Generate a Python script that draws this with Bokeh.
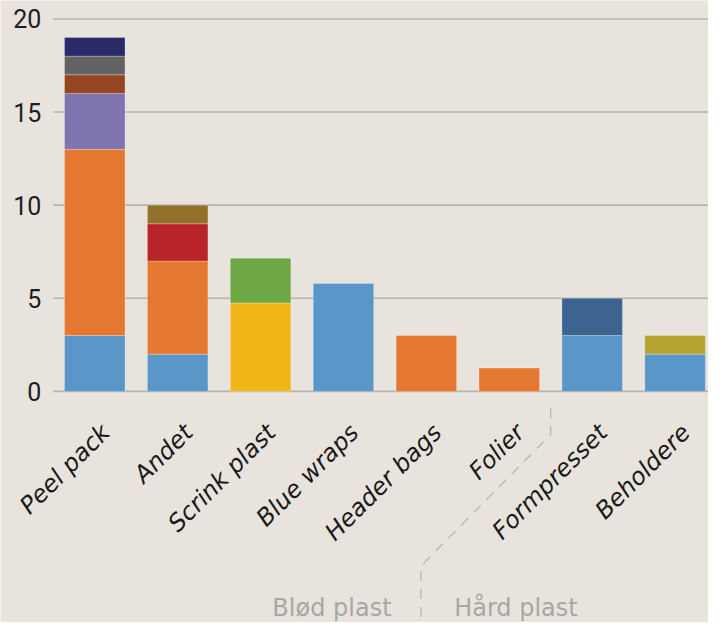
import math
from bokeh.plotting import figure
from bokeh.models import ColumnDataSource, Range1d
from bokeh.core.properties import value
from bokeh.embed import file_html
from bokeh.resources import INLINE

# ---- data ----
categories = ["Peel pack", "Andet", "Scrink plast", "Blue wraps",
              "Header bags", "Folier", "Formpresset", "Beholdere"]
blue   = [3, 2, 0, 5.8, 0, 0, 3, 2]
orange = [10, 5, 0, 0, 3, 1.25, 0, 0]
yellow = [0, 0, 4.75, 0, 0, 0, 0, 0]
purple = [3, 0, 0, 0, 0, 0, 0, 0]
red    = [0, 2, 0, 0, 0, 0, 0, 0]
green  = [0, 0, 2.4, 0, 0, 0, 0, 0]
steel  = [0, 0, 0, 0, 0, 0, 2, 0]
olive  = [0, 0, 0, 0, 0, 0, 0, 1]
brown  = [1, 0, 0, 0, 0, 0, 0, 0]
ochre  = [0, 1, 0, 0, 0, 0, 0, 0]
gray   = [1, 0, 0, 0, 0, 0, 0, 0]
navy   = [1, 0, 0, 0, 0, 0, 0, 0]
y_ticks = [0, 5, 10, 15, 20]
y_tick_labels = ["0", "5", "10", "15", "20"]
group_names = ["Blød plast", "Hård plast"]
group_sizes = [6, 2]

series = [blue, orange, yellow, purple, red, green, steel, olive, brown, ochre, gray, navy]
colors = ["#5a96c8", "#e47831", "#f1b719", "#7f74b0", "#b92428", "#6ea845",
          "#3d6490", "#b6a230", "#964523", "#92712b", "#636363", "#2b2a68"]

BG = "#e8e4dd"

# build stacked segments from the series
xs, bottoms, tops, fills = [], [], [], []
base = [0.0] * len(categories)
for vals, col in zip(series, colors):
    for i, v in enumerate(vals):
        if v > 0:
            xs.append(i)
            bottoms.append(base[i])
            tops.append(base[i] + v)
            fills.append(col)
            base[i] += v
seg = ColumnDataSource(dict(x=xs, bottom=bottoms, top=tops, color=fills))

X0, X1 = -1.137, 7.403
p = figure(width=708, height=622, output_backend="svg", toolbar_location=None,
           x_range=Range1d(X0, X1), y_range=Range1d(-12.41, 20.99),
           min_border_left=0, min_border_right=0, min_border_top=0, min_border_bottom=0)
p.background_fill_color = BG
p.border_fill_color = BG
p.outline_line_color = None
p.axis.visible = False
p.grid.visible = False

# gridlines (one per y tick), starting at the left edge of the first category slot
grid = ColumnDataSource(dict(x0=[-0.5] * len(y_ticks), x1=[X1] * len(y_ticks), y=y_ticks,
                             t=y_tick_labels))
p.segment(x0="x0", y0="y", x1="x1", y1="y", source=grid,
          line_color="#b5b3ae", line_width=1.6)
p.text(x="x0", y="y", text="t", source=grid, x_offset=-12,
       text_align="right", text_baseline="middle",
       text_font=value("Roboto"), text_font_size="25px", text_color="#1e1e1e")

p.vbar(x="x", bottom="bottom", top="top", width=0.73, fill_color="color",
       line_color="white", line_alpha=0.25, line_width=1, source=seg)

# category labels
lab = ColumnDataSource(dict(x=list(range(len(categories))), y=[0] * len(categories), t=categories))
p.text(x="x", y="y", text="t", source=lab, angle=math.pi / 4,
       text_align="right", text_baseline="middle", x_offset=11, y_offset=37,
       text_font=value("DejaVu Sans"), text_font_style="italic",
       text_font_size="24px", text_color="#1a1a1a")

# group separator and labels
boundary = group_sizes[0] - 0.5
low_x = 3.935
p.line(x=[boundary, boundary, low_x, low_x], y=[-0.9, -2.31, -9.38, -12.41],
       line_color="#b8b6b2", line_width=1.3, line_dash="10 8")
gl = ColumnDataSource(dict(x=[low_x - 0.355, low_x + 0.40], y=[-11.65, -11.65],
                           t=group_names, a=["right", "left"]))
p.text(x="x", y="y", text="t", source=gl, text_align="a", text_baseline="alphabetic",
       text_font=value("DejaVu Sans"), text_font_size="24px", text_color="#a9a7a3")

open("out.html", "w").write(file_html(p, INLINE))
